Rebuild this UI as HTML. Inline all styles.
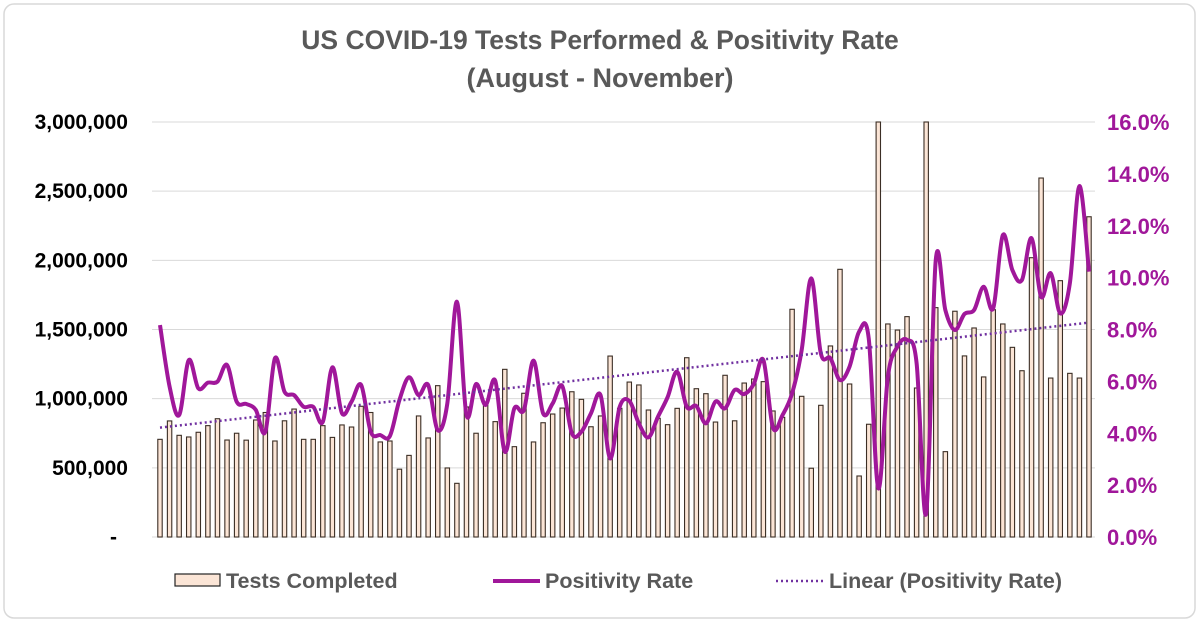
<!DOCTYPE html>
<html><head><meta charset="utf-8"><style>
html,body{margin:0;padding:0;background:#fff;}
svg{display:block;font-family:"Liberation Sans",Arial,sans-serif;}
</style></head><body>
<svg id="chart" width="1200" height="623" viewBox="0 0 1200 623">
<rect x="4" y="4" width="1191" height="614" rx="10" fill="#fff" stroke="#d9d9d9" stroke-width="1.5"/>
<text x="600" y="49" text-anchor="middle" font-size="26.5" font-weight="bold" fill="#595959">US COVID-19 Tests Performed &amp; Positivity Rate</text>
<text x="600" y="87" text-anchor="middle" font-size="27" font-weight="bold" fill="#595959">(August - November)</text>
<g id="grid"></g><g id="bars"></g><g id="lines"></g><g id="axes"></g>
<g>
<rect x="175" y="574" width="45" height="12" fill="#FBE5D6" stroke="#222" stroke-width="1.2"/>
<text x="226" y="588" font-size="21.5" font-weight="bold" fill="#595959">Tests Completed</text>
<line x1="493" y1="581" x2="540" y2="581" stroke="#A0179A" stroke-width="4"/>
<text x="545" y="588" font-size="21.5" font-weight="bold" fill="#595959">Positivity Rate</text>
<line x1="776" y1="581" x2="824" y2="581" stroke="#7030A0" stroke-width="2.5" stroke-dasharray="2,3"/>
<text x="829" y="588" font-size="21.5" font-weight="bold" fill="#595959">Linear (Positivity Rate)</text>
</g>
</svg>
<script>
const tests=[0.706,0.839,0.735,0.723,0.757,0.805,0.855,0.701,0.75,0.70,0.846,0.90,0.694,0.84,0.925,0.706,0.706,0.805,0.72,0.81,0.795,0.945,0.90,0.687,0.694,0.49,0.59,0.875,0.716,1.094,0.499,0.388,0.94,0.75,0.954,0.834,1.212,0.653,1.039,0.687,0.826,0.889,0.932,1.05,0.995,0.797,0.875,1.308,0.93,1.12,1.099,0.918,0.858,0.812,0.93,1.296,1.072,1.036,0.831,1.169,0.84,1.113,1.142,1.123,0.911,0.865,1.646,1.017,0.497,0.952,1.381,1.935,1.106,0.441,0.815,3.5,1.54,1.496,1.593,1.077,3.5,1.658,0.617,1.632,1.309,1.511,1.157,1.643,1.54,1.371,1.202,2.019,2.595,1.149,1.853,1.183,1.149,2.315];
const rate=[8.17,5.8,4.7,6.82,5.73,5.95,5.99,6.63,5.22,5.13,4.9,4.06,6.89,5.6,5.47,5.02,5.02,4.44,6.54,4.77,5.22,5.86,4.06,3.93,3.89,5.28,6.16,5.47,5.86,4.12,5.15,9.07,4.7,5.9,5.09,6.03,3.29,4.96,4.9,6.8,4.77,5.15,5.82,4.0,4.06,4.77,5.47,3.03,5.02,5.25,4.38,3.84,4.64,5.39,6.37,5.02,5.05,4.38,5.22,4.96,5.67,5.51,5.9,6.82,4.22,4.7,5.54,7.21,9.97,7.08,6.89,6.05,6.57,7.92,7.66,1.88,6.18,7.34,7.6,6.7,0.91,10.68,8.75,7.98,8.6,8.75,9.65,8.82,11.64,10.29,9.91,11.52,9.26,10.17,8.62,9.78,13.53,10.23];
const leftTicks=["-","500,000","1,000,000","1,500,000","2,000,000","2,500,000","3,000,000"];
const rightTicks=["0.0%","2.0%","4.0%","6.0%","8.0%","10.0%","12.0%","14.0%","16.0%"];
const NS="http://www.w3.org/2000/svg";
const X0=160,X1=1089,YT=122,YB=537;
const xs=i=>X0+i*(X1-X0)/(tests.length-1);
const yL=v=>YB-v/3*(YB-YT);
const yR=v=>YB-v/16*(YB-YT);
function mk(tag,attrs,parent){const e=document.createElementNS(NS,tag);for(const k in attrs)e.setAttribute(k,attrs[k]);document.getElementById(parent).appendChild(e);return e;}
leftTicks.forEach((t,i)=>{const y=YB-i*(YB-YT)/6;
 const g=mk('line',{x1:152,x2:1095,y1:y,y2:y,stroke:'#d9d9d9','stroke-width':1},'grid');
 
 
 const tx=mk('text',{x:t=="-"?117:128,y:y+7,'text-anchor':'end','font-size':21,'font-weight':'bold',fill:'#000'},'axes');tx.textContent=t;
 
 
});
rightTicks.forEach((t,i)=>{const y=yR(i*2);
 const tx=mk('text',{x:1107,y:y+8,'font-size':22,'font-weight':'bold',fill:'#A0179A'},'axes');tx.textContent=t;
 
 
});
tests.forEach((v,i)=>{const y=Math.max(yL(v),YT);
 const b=mk('rect',{x:xs(i)-2.2,y:y,width:4.4,height:YB-y,fill:'#FBE5D6',stroke:'#3b2e25','stroke-width':1.1},'bars');
 
 
});
const pts=rate.map((r,i)=>[xs(i),yR(r)]);
let d='M'+pts[0][0]+','+pts[0][1];
for(let i=0;i<pts.length-1;i++){const p0=pts[Math.max(i-1,0)],p1=pts[i],p2=pts[i+1],p3=pts[Math.min(i+2,pts.length-1)];
 const c1=[p1[0]+(p2[0]-p0[0])/6,p1[1]+(p2[1]-p0[1])/6],c2=[p2[0]-(p3[0]-p1[0])/6,p2[1]-(p3[1]-p1[1])/6];
 d+=' C'+c1[0]+','+c1[1]+' '+c2[0]+','+c2[1]+' '+p2[0]+','+p2[1];}
const ln=mk('path',{d:d,fill:'none',stroke:'#A0179A','stroke-width':4,'stroke-linejoin':'round'},'lines');


const n=rate.length;let sx=0,sy=0,sxy=0,sxx=0;rate.forEach((r,i)=>{sx+=i;sy+=r;sxy+=i*r;sxx+=i*i;});
const m=(n*sxy-sx*sy)/(n*sxx-sx*sx),c=(sy-m*sx)/n;
const tl=mk('line',{x1:xs(0),y1:yR(c),x2:xs(n-1),y2:yR(c+m*(n-1)),stroke:'#7030A0','stroke-width':2.5,'stroke-dasharray':'2,3'},'lines');


</script>
</body></html>
